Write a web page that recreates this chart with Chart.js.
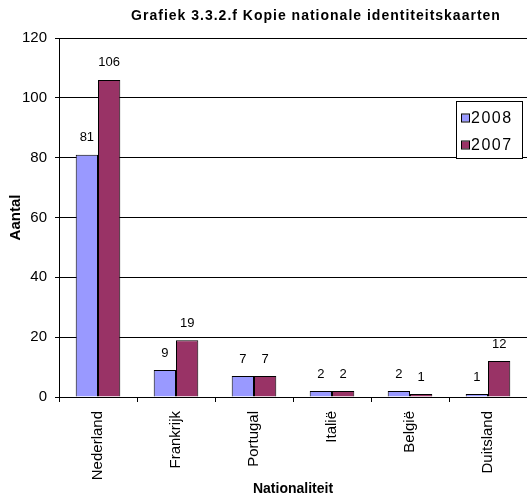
<!DOCTYPE html>
<html>
<head>
<meta charset="utf-8">
<script src="https://cdn.jsdelivr.net/npm/chart.js@4/dist/chart.umd.min.js"></script>
<style>
html,body{margin:0;padding:0;background:#fff;}
#wrap{width:527px;height:501px;position:relative;}
</style>
</head>
<body>
<div id="wrap"><canvas id="c" width="527" height="501"></canvas></div>
<script>
const chartTitle = 'Grafiek 3.3.2.f Kopie nationale identiteitskaarten';
const categories = ['Nederland', 'Frankrijk', 'Portugal', 'Italië', 'België', 'Duitsland'];
const seriesNames = ['2008', '2007'];
const values2008 = [81, 9, 7, 2, 2, 1];
const values2007 = [106, 19, 7, 2, 1, 12];
const yTicks = [0, 20, 40, 60, 80, 100, 120];
const xAxisTitle = 'Nationaliteit';
const yAxisTitle = 'Aantal';

const FONT = 'Arial, "Liberation Sans", Helvetica, sans-serif';

const titlePlugin = {
  id: 'customTitle',
  afterDraw(chart) {
    const ctx = chart.ctx;
    ctx.save();
    ctx.font = 'bold 14px ' + FONT;
    try { ctx.letterSpacing = '1px'; } catch (e) {}
    ctx.fillStyle = '#000';
    ctx.textAlign = 'center';
    ctx.textBaseline = 'middle';
    ctx.fillText(chartTitle, 316, 16);
    ctx.restore();
  }
};

const valueLabels = {
  id: 'valueLabels',
  afterDatasetsDraw(chart) {
    const ctx = chart.ctx;
    ctx.save();
    ctx.font = '13px ' + FONT;
    ctx.fillStyle = '#000';
    ctx.textAlign = 'center';
    ctx.textBaseline = 'middle';
    chart.data.datasets.forEach((ds, di) => {
      const meta = chart.getDatasetMeta(di);
      meta.data.forEach((bar, i) => {
        ctx.fillText(String(ds.data[i]), bar.x, bar.y - 17);
      });
    });
    ctx.restore();
  }
};

const boxLegend = {
  id: 'boxLegend',
  afterDraw(chart) {
    const ctx = chart.ctx;
    ctx.save();
    const x0 = 456, y0 = 101, w = 66, h = 57;
    ctx.fillStyle = '#fff';
    ctx.fillRect(x0, y0, w, h);
    ctx.strokeStyle = '#000';
    ctx.lineWidth = 1;
    ctx.strokeRect(x0 + 0.5, y0 + 0.5, w, h);
    ctx.font = '16px ' + FONT;
    try { ctx.letterSpacing = '1.5px'; } catch (e) {}
    ctx.textAlign = 'left';
    ctx.textBaseline = 'middle';
    chart.data.datasets.forEach((ds, i) => {
      const cy = 118 + i * 27;
      ctx.fillStyle = ds.backgroundColor;
      ctx.fillRect(462, cy - 3.5, 7, 7);
      ctx.strokeStyle = '#000';
      ctx.strokeRect(461.5, cy - 4, 8, 8);
      ctx.fillStyle = '#000';
      ctx.fillText(ds.label, 471, cy + 0.5);
    });
    ctx.restore();
  }
};

new Chart(document.getElementById('c'), {
  type: 'bar',
  data: {
    labels: categories,
    datasets: [
      { label: seriesNames[0], data: values2008, backgroundColor: '#9999FF', borderColor: '#000', borderWidth: 1 },
      { label: seriesNames[1], data: values2007, backgroundColor: '#993366', borderColor: '#000', borderWidth: 1 }
    ]
  },
  options: {
    responsive: false,
    animation: false,
    devicePixelRatio: 1,
    layout: { padding: { left: 3, right: 0, top: 38, bottom: 0 } },
    plugins: {
      legend: { display: false },
      title: { display: false },
      tooltip: { enabled: false }
    },
    datasets: { bar: { categoryPercentage: 2 / 3.5, barPercentage: 1 } },
    scales: {
      x: {
        grid: { display: true, drawOnChartArea: false, tickLength: 5, color: '#000', offset: true },
        border: { color: '#000', width: 1 },
        ticks: { font: { size: 15, family: FONT }, color: '#000', maxRotation: 90, minRotation: 90, padding: 9 },
        title: { display: true, text: xAxisTitle, font: { size: 14, weight: 'bold', family: FONT }, color: '#000', padding: { top: 0, bottom: 3 } },
        afterFit(scale) { scale.height = 104; }
      },
      y: {
        min: 0, max: 120,
        afterBuildTicks(scale) { scale.ticks = yTicks.map(v => ({ value: v })); },
        grid: { color: '#000', lineWidth: 1, tickLength: 4 },
        border: { color: '#000', width: 1 },
        ticks: { font: { size: 15, family: FONT }, color: '#000', padding: 8 },
        title: { display: true, text: yAxisTitle, font: { size: 15, weight: 'bold', family: FONT }, color: '#000', padding: { top: 4, bottom: 0 } },
        afterFit(scale) { scale.width = 56; }
      }
    }
  },
  plugins: [titlePlugin, valueLabels, boxLegend]
});
</script>
</body>
</html>
